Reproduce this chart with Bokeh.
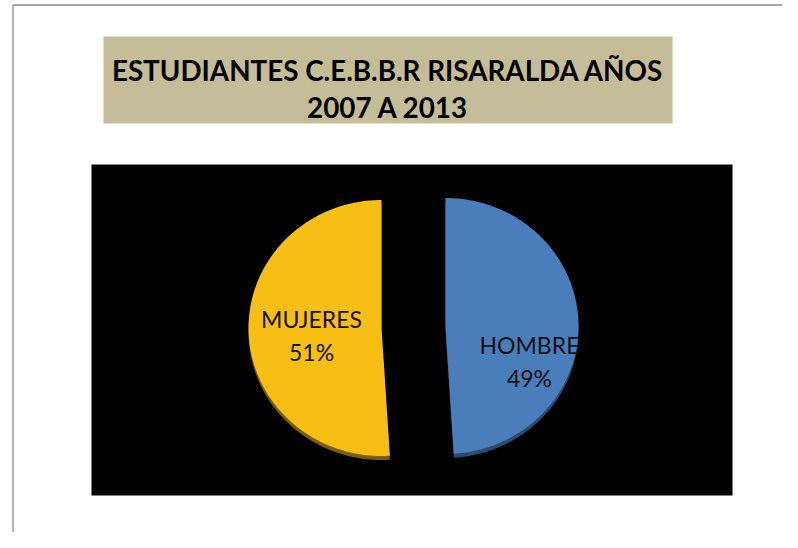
import numpy as np
from bokeh.plotting import figure
from bokeh.models import Range1d
from bokeh.core.properties import value
from bokeh.embed import file_html
from bokeh.resources import INLINE

# ---- data ----
title_lines = ["ESTUDIANTES C.E.B.B.R RISARALDA AÑOS", "2007 A 2013"]
categories = ["HOMBRE", "MUJERES"]
percentages = [49, 51]
face_colors = ["#4A7EBB", "#F7BE13"]
side_colors = ["#2C4B72", "#7A5C05"]

# ---- layout (pixels) ----
W, H = 782, 532
FONT = "Lato"

p = figure(width=W, height=H, x_range=Range1d(0, W), y_range=Range1d(H, 0),
           output_backend="svg", toolbar_location=None, min_border=0,
           x_axis_type=None, y_axis_type=None)
p.outline_line_color = None
p.background_fill_color = "white"
p.border_fill_color = "white"

# outer chart border (gray)
p.segment(x0=[12.5, 12.5], y0=[4.5, 4.5], x1=[12.5, 800], y1=[560, 4.5],
          line_color="#8C8C8C", line_width=1.3)

# title box
p.quad(left=[103], right=[672], top=[36], bottom=[123], fill_color="#C4BD97", line_color=None)
p.text(x=[387.5, 387.5], y=[69.5, 106.5], text=title_lines,
       text_font=value(FONT), text_font_style="bold", text_font_size="27.8px",
       text_align="center", text_baseline="alphabetic", text_color="black")

# plot area
p.quad(left=[91], right=[732], top=[164], bottom=[495], fill_color="black", line_color=None)

# ---- pie (slightly tilted, exploded) ----
cx, cy = 413.0, 326.5
rx, ry = 133.0, 128.0
explode = 32.0
depth = 4.0

vals = np.array(percentages, dtype=float)
frac = vals / vals.sum()
ends = np.cumsum(frac) * 2 * np.pi
starts = ends - frac * 2 * np.pi
mids = (starts + ends) / 2

face_xs, face_ys, side_xs, side_ys, centers = [], [], [], [], []
for s, e, m in zip(starts, ends, mids):
    sx = cx + explode * np.sin(m)
    sy = cy - explode * np.cos(m)
    t = np.linspace(s, e, 200)
    xs = np.concatenate([[sx], sx + rx * np.sin(t)])
    ys = np.concatenate([[sy], sy - ry * np.cos(t)])
    face_xs.append(list(xs)); face_ys.append(list(ys))
    side_xs.append(list(xs)); side_ys.append(list(ys + depth))
    centers.append((sx, sy))

p.patches(xs=side_xs, ys=side_ys, fill_color=side_colors, line_color=None)
p.patches(xs=face_xs, ys=face_ys, fill_color=face_colors, line_color=None)

# data labels
label_offsets = [(84.0, 12.0), (-70.0, -16.0)]   # from each slice's centre
line_gap = 33.0
lx, ly1, ly2, t1, t2 = [], [], [], [], []
for (sx, sy), (dx, dy), cat, pct in zip(centers, label_offsets, categories, percentages):
    lx.append(sx + dx)
    ly1.append(sy + dy + 7)
    ly2.append(sy + dy + 7 + line_gap)
    t1.append(cat)
    t2.append(f"{pct}%")
p.text(x=lx + lx, y=ly1 + ly2, text=t1 + t2, text_font=value(FONT), text_font_size="23px",
       text_align="center", text_baseline="alphabetic", text_color="#111111")

open("out.html", "w").write(file_html(p, INLINE))
